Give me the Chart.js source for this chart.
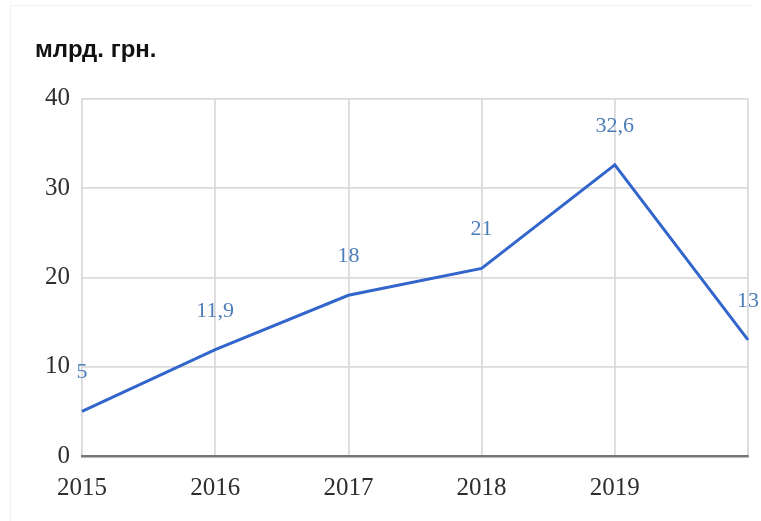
<!DOCTYPE html>
<html>
<head>
<meta charset="utf-8">
<script src="https://cdn.jsdelivr.net/npm/chart.js@4.4.1/dist/chart.umd.min.js"></script>
<style>
  html, body { margin: 0; padding: 0; background: #fff; }
  #wrap { position: relative; width: 761px; height: 521px; overflow: hidden; }
  #frame {
    position: absolute; left: 10px; top: 5px; width: 742px; height: 530px;
    border-top: 1px solid #f1f1f1; border-left: 1px solid #f1f1f1;
  }
  canvas { position: absolute; left: 0; top: 0; }
</style>
</head>
<body>
<div id="wrap">
  <div id="frame"></div>
  <canvas id="chart" width="761" height="521"></canvas>
</div>
<script>
const years = ["2015", "2016", "2017", "2018", "2019", ""];
const amounts = [5, 11.9, 18, 21, 32.6, 13];
const amountLabels = ["5", "11,9", "18", "21", "32,6", "13"];
const yTicks = [0, 10, 20, 30, 40];

const serif = "'Liberation Serif', 'Times New Roman', serif";

// writes each value above its point, using the dataset's own point positions
const valueLabels = {
  id: "valueLabels",
  afterDatasetsDraw(chart) {
    const ctx = chart.ctx;
    const meta = chart.getDatasetMeta(0);
    ctx.save();
    ctx.font = "22px " + serif;
    ctx.fillStyle = "#4c7db9";
    ctx.textAlign = "center";
    ctx.textBaseline = "middle";
    meta.data.forEach((pt, i) => {
      ctx.fillText(amountLabels[i], pt.x, pt.y - 39);
    });
    ctx.restore();
  }
};

new Chart(document.getElementById("chart"), {
  type: "line",
  data: {
    labels: years,
    datasets: [{
      data: amounts,
      borderColor: "#3366cc",
      borderWidth: 3,
      pointRadius: 0,
      tension: 0,
      fill: false
    }]
  },
  options: {
    responsive: false,
    animation: false,
    layout: { padding: { left: 35, right: 13, top: 0, bottom: 0 } },
    plugins: {
      legend: { display: false },
      tooltip: { enabled: false },
      title: {
        display: true,
        text: "млрд. грн.",
        align: "start",
        color: "#111",
        font: { family: "'Liberation Sans', Arial, sans-serif", size: 24, weight: "bold" },
        padding: { top: 36, bottom: 34 }
      }
    },
    scales: {
      x: {
        offset: false,
        grid: { color: "#dadada", lineWidth: 1.8, drawTicks: false },
        border: { color: "#777", width: 2.5 },
        ticks: {
          color: "#2e2e2e",
          font: { family: serif, size: 25 },
          padding: 17,
          maxRotation: 0,
          autoSkip: false
        },
        afterFit(scale) {
          scale.height = 65;
          scale.paddingRight = 0;
        }
      },
      y: {
        min: 0,
        max: 40,
        afterBuildTicks(scale) { scale.ticks = yTicks.map(v => ({ value: v })); },
        grid: { color: "#dadada", lineWidth: 1.8, drawTicks: false },
        border: { display: false },
        ticks: {
          color: "#2e2e2e",
          font: { family: serif, size: 25 },
          padding: 12
        },
        afterFit(scale) { scale.width = 47; }
      }
    }
  },
  plugins: [valueLabels]
});
</script>
</body>
</html>
